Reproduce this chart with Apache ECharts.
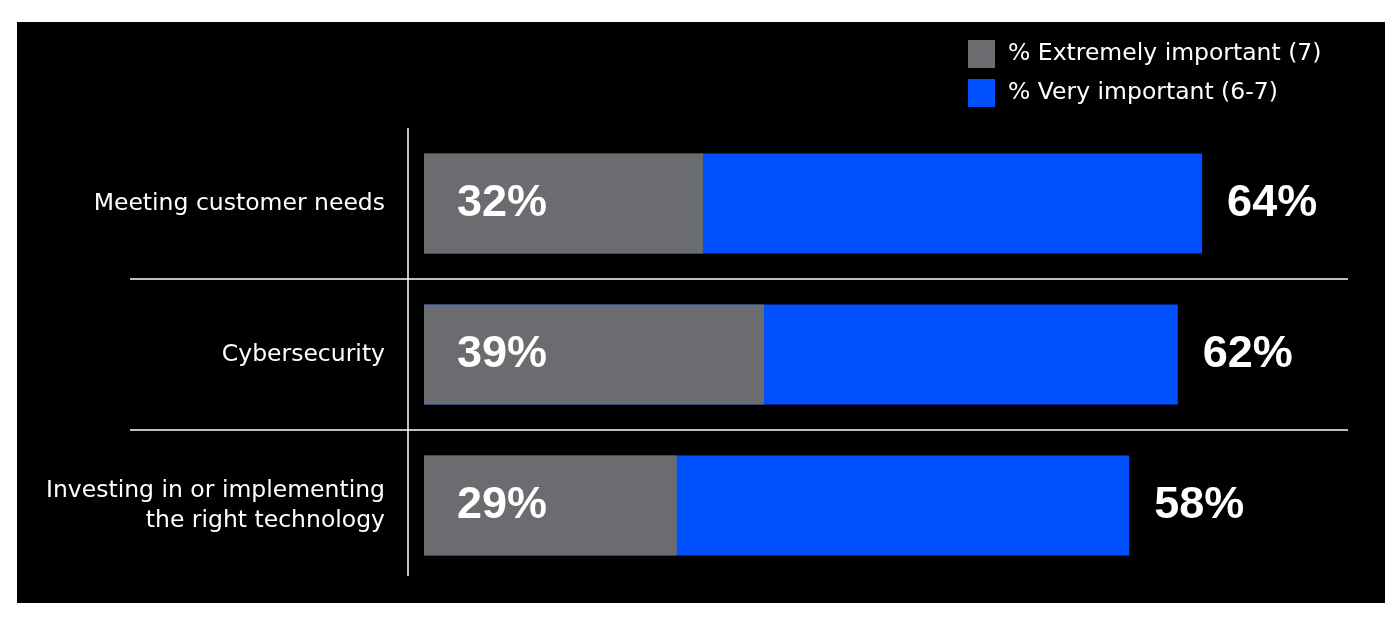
<!DOCTYPE html>
<html>
<head>
<meta charset="utf-8">
<script src="https://cdn.jsdelivr.net/npm/echarts@6/dist/echarts.min.js"></script>
<style>
html, body { margin: 0; padding: 0; background: #fff; }
#bg { position: absolute; left: 17px; top: 22px; width: 1368px; height: 581px; background: #000; }
#main { position: absolute; left: 0; top: 0; width: 1400px; height: 620px; }
</style>
</head>
<body>
<div id="bg"></div>
<div id="main"></div>
<script>
var categories = ['Meeting customer needs', 'Cybersecurity', 'Investing in or implementing\nthe right technology'];
var extremelyImportant = [32, 39, 29];
var veryImportant = [64, 62, 58];
var seriesNames = ['% Extremely important (7)', '% Very important (6-7)'];

var textFont = '"DejaVu Sans", "Open Sans", sans-serif';
var numFont = '"Liberation Sans", Arial, sans-serif';

var chart = echarts.init(document.getElementById('main'));

// grid geometry (used for the separator lines too)
var gridTop = 128, gridHeight = 453, gridLeft = 424, gridRight = 52;
var band = gridHeight / categories.length;

var numLabel = {
	show : true,
	formatter : '{c}%',
	color : '#fff',
	fontSize : 45,
	fontWeight : 'bold',
	fontFamily : numFont
};

var option = {
	backgroundColor : 'transparent',
	animation : false,
	legend : {
		data : seriesNames,
		orient : 'vertical',
		left : 968,
		top : 40,
		padding : 0,
		itemWidth : 27,
		itemHeight : 28,
		itemGap : 11,
		icon : 'rect',
		textStyle : {
			color : '#fff',
			fontSize : 23.5,
			fontFamily : textFont,
			padding : [0, 0, 0, 8]
		}
	},
	grid : {
		left : gridLeft,
		right : gridRight,
		top : gridTop,
		height : gridHeight
	},
	// the original is not drawn to one scale, so each series gets its own hidden axis
	xAxis : [ {
		type : 'value',
		min : 0,
		max : 76,
		show : false
	}, {
		type : 'value',
		min : 0,
		max : 106,
		show : false
	} ],
	yAxis : {
		type : 'category',
		data : categories,
		inverse : true,
		axisLine : {
			show : false
		},
		axisTick : {
			show : false
		},
		axisLabel : {
			color : '#fff',
			fontSize : 23.5,
			fontFamily : textFont,
			margin : 39,
			align : 'right',
			lineHeight : 30,
			padding : [6, 0, 0, 0]
		}
	},
	series : [ {
		name : seriesNames[1],
		type : 'bar',
		xAxisIndex : 0,
		data : veryImportant,
		barWidth : 100,
		barGap : '-100%',
		itemStyle : {
			color : '#0050FF'
		},
		label : echarts.util.extend({
			position : 'right',
			distance : 25
		}, numLabel)
	}, {
		name : seriesNames[0],
		type : 'bar',
		xAxisIndex : 1,
		data : extremelyImportant,
		barWidth : 100,
		barGap : '-100%',
		itemStyle : {
			color : '#6A6C6F'
		},
		label : echarts.util.extend({
			position : 'insideLeft',
			distance : 33
		}, numLabel)
	} ],
	graphic : [ {
		type : 'line',
		shape : {
			x1 : 408,
			y1 : gridTop,
			x2 : 408,
			y2 : 576
		},
		style : {
			stroke : '#fff',
			lineWidth : 1.5
		}
	}, {
		type : 'line',
		shape : {
			x1 : 130,
			y1 : gridTop + band,
			x2 : 1348,
			y2 : gridTop + band
		},
		style : {
			stroke : '#fff',
			lineWidth : 1.5
		}
	}, {
		type : 'line',
		shape : {
			x1 : 130,
			y1 : gridTop + band * 2,
			x2 : 1348,
			y2 : gridTop + band * 2
		},
		style : {
			stroke : '#fff',
			lineWidth : 1.5
		}
	} ]
};
chart.setOption(option);
</script>
</body>
</html>
